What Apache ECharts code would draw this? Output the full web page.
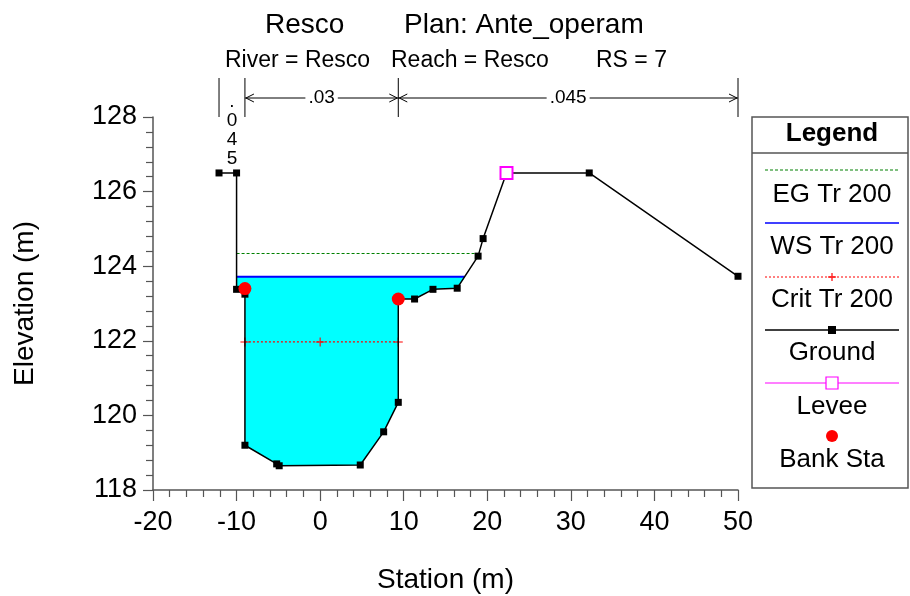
<!DOCTYPE html>
<html><head><meta charset="utf-8">
<script src="https://cdn.jsdelivr.net/npm/echarts@6/dist/echarts.min.js"></script>
<style>html,body{margin:0;padding:0;background:#fff}#c{width:910px;height:596px}</style>
</head><body><div id="c"></div>
<script>
// ---- data ----
const groundStation   = [-12.1, -10, -10, -9.0, -9.0, -5.2, -4.9, 4.8, 7.6, 9.35, 9.35, 11.3, 13.5, 16.4, 18.9, 19.5, 22.3, 32.2, 50.0];
const groundElevation = [126.5, 126.5, 123.38, 123.25, 119.2, 118.7, 118.65, 118.67, 119.56, 120.35, 123.12, 123.12, 123.38, 123.41, 124.27, 124.74, 126.5, 126.5, 123.73];
const wsElevation = 123.72;
const wsStations = [-10, 17.3];
const egElevation = 124.34;
const egStations = [-10, 18.95];
const critElevation = 121.97;
const critStations = [-9.0, 0, 9.35];
const bankStations = [-9.0, 9.35];
const bankElevations = [123.4, 123.12];
const leveeStations = [22.3];
const leveeElevations = [126.5];
const nBreakStations = [-12.1, -9.0, 9.35, 50];
const nValues = ['.045', '.03', '.045'];
const titleTexts = ['Resco', 'Plan: Ante_operam'];
const subTexts = ['River = Resco', 'Reach = Resco', 'RS = 7'];
const legendNames = ['EG Tr 200', 'WS Tr 200', 'Crit Tr 200', 'Ground', 'Levee', 'Bank Sta'];

const FONT = "'Liberation Sans', Arial, sans-serif";
const pair = (xs, ys) => xs.map((x, i) => [x, Array.isArray(ys) ? ys[i] : ys]);

// water polygon: ground clipped under the water surface
function waterPolygon() {
  const pts = [];
  for (let i = 0; i < groundStation.length - 1; i++) {
    const ax = groundStation[i], ay = groundElevation[i];
    const bx = groundStation[i + 1], by = groundElevation[i + 1];
    if (ay < wsElevation) pts.push([ax, ay]);
    if ((ay < wsElevation) !== (by < wsElevation)) {
      const t = (wsElevation - ay) / (by - ay);
      pts.push([ax + t * (bx - ax), wsElevation]);
    }
  }
  return pts.filter(p => p[0] >= wsStations[0] - 0.01 && p[0] <= wsStations[1] + 0.01);
}
const water = waterPolygon();

const ctx = document.createElement('canvas').getContext('2d');
function textW(t, size) { ctx.font = size + 'px ' + FONT; return ctx.measureText(t).width; }

const chart = echarts.init(document.getElementById('c'));
const axisCol = '#555';

const crossSymbol = 'path://M4.4,0h1.2v4.4h4.4v1.2h-4.4v4.4h-1.2v-4.4h-4.4v-1.2h4.4z';

// legend graphics
const LX = 832;
const legendGraphics = [
  {type: 'rect', shape: {x: 752, y: 117, width: 156, height: 371}, style: {fill: '#fff', stroke: '#555', lineWidth: 1.5}, z: 10},
  {type: 'line', shape: {x1: 752, y1: 153, x2: 908, y2: 153}, style: {stroke: '#555', lineWidth: 1.5}, z: 11},
  {type: 'text', x: LX, y: 134, style: {text: 'Legend', font: 'bold 26px ' + FONT, fill: '#000', align: 'center', verticalAlign: 'middle'}, z: 11},
  {type: 'line', shape: {x1: 765, y1: 170, x2: 899, y2: 170}, style: {stroke: '#008000', lineWidth: 1.2, lineDash: [3, 2]}, z: 11},
  {type: 'line', shape: {x1: 765, y1: 223, x2: 899, y2: 223}, style: {stroke: '#0000ff', lineWidth: 1.5}, z: 11},
  {type: 'line', shape: {x1: 765, y1: 277, x2: 899, y2: 277}, style: {stroke: '#ff0000', lineWidth: 1.2, lineDash: [2, 2]}, z: 11},
  {type: 'line', shape: {x1: LX - 4, y1: 277, x2: LX + 4, y2: 277}, style: {stroke: '#ff0000', lineWidth: 1.2}, z: 12},
  {type: 'line', shape: {x1: LX, y1: 273, x2: LX, y2: 281}, style: {stroke: '#ff0000', lineWidth: 1.2}, z: 12},
  {type: 'line', shape: {x1: 765, y1: 330, x2: 899, y2: 330}, style: {stroke: '#000', lineWidth: 1.5}, z: 11},
  {type: 'rect', shape: {x: LX - 4, y: 326, width: 8, height: 8}, style: {fill: '#000'}, z: 12},
  {type: 'line', shape: {x1: 765, y1: 383, x2: 899, y2: 383}, style: {stroke: '#ff00ff', lineWidth: 1.2}, z: 11},
  {type: 'rect', shape: {x: LX - 6, y: 377, width: 12, height: 12}, style: {fill: '#fff', stroke: '#ff00ff', lineWidth: 1.2}, z: 12},
  {type: 'circle', shape: {cx: LX, cy: 436, r: 6}, style: {fill: '#ff0000'}, z: 12}
];
const legendTextY = [195, 247, 300, 353, 407, 460];
legendNames.forEach((n, i) => legendGraphics.push({
  type: 'text', x: LX, y: legendTextY[i],
  style: {text: n, font: '26px ' + FONT, fill: '#000', align: 'center', verticalAlign: 'middle'}, z: 11
}));

const titleGraphics = [
  {type: 'text', x: 265, y: 25, style: {text: titleTexts[0], font: '28px ' + FONT, fill: '#000', verticalAlign: 'middle'}},
  {type: 'text', x: 404, y: 25, style: {text: titleTexts[1], font: '28px ' + FONT, fill: '#000', verticalAlign: 'middle'}},
  {type: 'text', x: 225, y: 61, style: {text: subTexts[0], font: '23px ' + FONT, fill: '#000', verticalAlign: 'middle'}},
  {type: 'text', x: 391, y: 61, style: {text: subTexts[1], font: '23px ' + FONT, fill: '#000', verticalAlign: 'middle'}},
  {type: 'text', x: 596, y: 61, style: {text: subTexts[2], font: '23px ' + FONT, fill: '#000', verticalAlign: 'middle'}}
];

const option = {
  animation: false,
  backgroundColor: '#fff',
  grid: {left: 153, right: 172, top: 117, bottom: 106, containLabel: false, outerBoundsMode: 'none'},
  xAxis: {
    type: 'value', min: -20, max: 50, interval: 10,
    axisLine: {show: true, onZero: false, lineStyle: {color: axisCol, width: 1.5}},
    axisTick: {show: true, length: 11, lineStyle: {color: axisCol, width: 1.2}},
    minorTick: {show: true, splitNumber: 5, length: 7, lineStyle: {color: axisCol, width: 1.2}},
    splitLine: {show: false},
    axisLabel: {fontSize: 27, color: '#000', margin: 19, fontFamily: FONT},
    name: 'Station (m)', nameLocation: 'middle', nameGap: 76,
    nameTextStyle: {fontSize: 28, color: '#000', fontFamily: FONT}
  },
  yAxis: {
    type: 'value', min: 118, max: 128, interval: 2,
    axisLine: {show: true, onZero: false, lineStyle: {color: axisCol, width: 1.5}},
    axisTick: {show: true, length: 10, lineStyle: {color: axisCol, width: 1.2}},
    minorTick: {show: true, splitNumber: 5, length: 7, lineStyle: {color: axisCol, width: 1.2}},
    splitLine: {show: false},
    axisLabel: {fontSize: 27, color: '#000', margin: 16, fontFamily: FONT},
    name: 'Elevation (m)', nameLocation: 'middle', nameGap: 114, nameRotate: 90,
    nameTextStyle: {fontSize: 28, color: '#000', fontFamily: FONT}
  },
  graphic: titleGraphics.concat(legendGraphics),
  series: [
    {
      name: 'Water', type: 'custom', z: 1, clip: false, silent: true,
      data: water,
      renderItem: function (params, api) {
        if (params.dataIndex !== 0) return;
        const pts = water.map(p => api.coord(p));
        return {type: 'polygon', shape: {points: pts}, style: {fill: '#00ffff', stroke: null}};
      }
    },
    {
      name: 'EG Tr 200', type: 'line', z: 2, symbol: 'none',
      data: pair(egStations, egElevation),
      itemStyle: {color: '#008000'},
      lineStyle: {color: '#008000', width: 1.2, type: [3, 2]}
    },
    {
      name: 'WS Tr 200', type: 'line', z: 3, symbol: 'none',
      data: pair(wsStations, wsElevation),
      itemStyle: {color: '#0000ff'},
      lineStyle: {color: '#0000ff', width: 2}
    },
    {
      name: 'Crit Tr 200', type: 'line', z: 3, symbol: crossSymbol, symbolSize: 9,
      data: pair(critStations, critElevation),
      itemStyle: {color: '#ff0000'},
      lineStyle: {color: '#ff0000', width: 1.2, type: [2, 2]}
    },
    {
      name: 'Ground', type: 'line', z: 4, symbol: 'rect', symbolSize: 7,
      data: pair(groundStation, groundElevation),
      itemStyle: {color: '#000'},
      lineStyle: {color: '#000', width: 1.5}
    },
    {
      name: 'Levee', type: 'scatter', z: 7, symbol: 'emptyRect', symbolSize: 12,
      data: pair(leveeStations, leveeElevations),
      itemStyle: {color: '#ff00ff', borderColor: '#ff00ff', borderWidth: 1.2, opacity: 1}
    },
    {
      name: 'Bank Sta', type: 'scatter', z: 6, symbol: 'circle', symbolSize: 13,
      data: pair(bankStations, bankElevations),
      itemStyle: {color: '#ff0000', opacity: 1}
    },
    {
      name: 'Manning n', type: 'custom', z: 6, clip: false, silent: true,
      data: [[nBreakStations[0], 128]],
      renderItem: function (params, api) {
        if (params.dataIndex !== 0) return;
        const top = api.coord([0, 128])[1];
        const xs = nBreakStations.map(x => api.coord([x, 128])[0]);
        const children = [];
        const lineStyle = {stroke: '#000', lineWidth: 1};
        xs.forEach(x => children.push({type: 'line', shape: {x1: x, y1: top - 39, x2: x, y2: top}, style: lineStyle}));
        const ay = top - 19;
        for (let i = 0; i < nValues.length; i++) {
          const x0 = xs[i], x1 = xs[i + 1], mid = (x0 + x1) / 2;
          if (x1 - x0 > 60) {
            const tw = textW(nValues[i], 19);
            children.push({type: 'line', shape: {x1: x0, y1: ay, x2: mid - tw / 2 - 3, y2: ay}, style: lineStyle});
            children.push({type: 'line', shape: {x1: mid + tw / 2 + 3, y1: ay, x2: x1, y2: ay}, style: lineStyle});
            children.push({type: 'polyline', shape: {points: [[x0 + 9, ay - 4], [x0 + 1, ay], [x0 + 9, ay + 4]]}, style: {stroke: '#000', lineWidth: 1, fill: null}});
            children.push({type: 'polyline', shape: {points: [[x1 - 9, ay - 4], [x1 - 1, ay], [x1 - 9, ay + 4]]}, style: {stroke: '#000', lineWidth: 1, fill: null}});
            children.push({type: 'text', x: mid, y: ay, style: {text: nValues[i], font: '19px ' + FONT, fill: '#000', align: 'center', verticalAlign: 'middle'}});
          } else {
            children.push({type: 'text', x: mid, y: top - 25, style: {text: nValues[i].split('').join('\n'), font: '19px ' + FONT, lineHeight: 19, fill: '#000', align: 'center', verticalAlign: 'top'}});
          }
        }
        return {type: 'group', children: children};
      }
    }
  ]
};
chart.setOption(option);
</script>
</body></html>
